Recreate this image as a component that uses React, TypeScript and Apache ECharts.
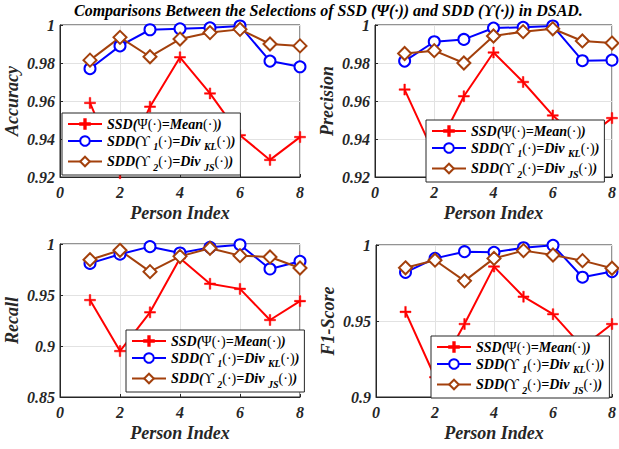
import React, { useEffect, useRef } from "react";
import * as echarts from "echarts";

const persons = [1, 2, 3, 4, 5, 6, 7, 8];

const accSSD = [0.959, 0.922, 0.957, 0.983, 0.964, 0.942, 0.929, 0.941];
const accKL = [0.977, 0.989, 0.9975, 0.998, 0.9985, 0.9995, 0.981, 0.978];
const accJS = [0.9815, 0.9935, 0.9833, 0.9926, 0.996, 0.9977, 0.99, 0.989];

const precSSD = [0.966, 0.932, 0.9625, 0.9855, 0.97, 0.9524, 0.939, 0.951];
const precKL = [0.981, 0.9912, 0.9924, 0.9984, 0.9988, 0.9995, 0.9812, 0.9815];
const precJS = [0.985, 0.9865, 0.98, 0.9942, 0.9965, 0.998, 0.9916, 0.9905];

const recSSD = [0.945, 0.895, 0.933, 0.986, 0.961, 0.956, 0.9255, 0.944];
const recKL = [0.981, 0.99, 0.9974, 0.9912, 0.9967, 0.9993, 0.9755, 0.983];
const recJS = [0.9846, 0.9938, 0.9729, 0.9879, 0.9958, 0.9886, 0.9873, 0.9765];

const f1SSD = [0.956, 0.913, 0.948, 0.9858, 0.966, 0.9545, 0.933, 0.948];
const f1KL = [0.982, 0.9912, 0.9956, 0.9952, 0.9982, 0.9998, 0.9788, 0.9825];
const f1JS = [0.985, 0.99, 0.9764, 0.9912, 0.9963, 0.9934, 0.9897, 0.9847];

const metricNames = ["Accuracy", "Precision", "Recall", "F1-Score"];
const yMins = [0.92, 0.92, 0.85, 0.9];
const yIntervals = [0.02, 0.02, 0.05, 0.05];
const seriesNames = ["SSD", "KL", "JS"];
const titleText = "Comparisons Between the Selections of SSD (\u03A8(\u00B7)) and SDD (\u03D2(\u00B7)) in DSAD.";

const FONT = "Liberation Serif";
const DARK = "#262626";
const RED = "#ff0000";
const BLUE = "#0000ff";
const BROWN = "#a3400c";
const PLUS = "path://M4.3,0H5.7V4.3H10V5.7H5.7V10H4.3V5.7H0V4.3H4.3Z";

const grids = [
  { left: 60, top: 25, width: 240, height: 152 },
  { left: 375, top: 25, width: 242, height: 152 },
  { left: 60, top: 244, width: 240, height: 153 },
  { left: 376, top: 245, width: 241, height: 152 },
];
const legendPos = [
  { left: 62, top: 113 },
  { left: 426, top: 120 },
  { left: 126, top: 330 },
  { left: 431, top: 336 },
];

export default function App() {
  const ref = useRef<HTMLDivElement>(null);
  useEffect(() => {
    if (!ref.current) return;
    const chart = echarts.init(ref.current, null, { renderer: "svg" });
    const allData = [
      [accSSD, accKL, accJS],
      [precSSD, precKL, precJS],
      [recSSD, recKL, recJS],
      [f1SSD, f1KL, f1JS],
    ];
    const textBase = { fontFamily: FONT, fontWeight: "bold", fontStyle: "italic", color: "#000" };
    const rich = {
      b: { ...textBase, fontSize: 14 },
      g: { fontFamily: FONT, fontWeight: "normal", fontStyle: "normal", color: "#000", fontSize: 14 },
      s: { ...textBase, fontSize: 10, padding: [11, 0, 0, 0] },
    };
    const fmt = (name: string) => {
      if (name === "SSD") return "{b|SSD(}{g|\u03A8(\u00B7)}{b|=Mean}{g|(\u00B7)}{b|)}";
      if (name === "KL") return "{b|SDD(}{g|\u03D2 }{s|1}{g|(\u00B7)}{b|=Div }{s|KL}{g|(\u00B7)}{b|)}";
      return "{b|SDD(}{g|\u03D2 }{s|2}{g|(\u00B7)}{b|=Div }{s|JS}{g|(\u00B7)}{b|)}";
    };
    const fmtLabel = (v: number) => String(parseFloat(v.toFixed(3)));
    const axisLabel = { color: DARK, fontSize: 16, fontWeight: "bold", fontStyle: "italic", fontFamily: FONT };
    const nameStyle = { color: DARK, fontSize: 18, fontWeight: "bold", fontStyle: "italic", fontFamily: FONT };
    const series: any[] = [];
    allData.forEach((set, gi) => {
      const styles = [
        { color: RED, symbol: PLUS, size: 11, bw: 0.5 },
        { color: BLUE, symbol: "emptyCircle", size: 11, bw: 2 },
        { color: BROWN, symbol: "emptyDiamond", size: 13, bw: 2 },
      ];
      set.forEach((vals, si) => {
        series.push({
          type: "line",
          name: seriesNames[si],
          xAxisIndex: gi,
          yAxisIndex: gi,
          data: persons.map((p, k) => [p, vals[k]]),
          symbol: styles[si].symbol,
          symbolSize: styles[si].size,
          showAllSymbol: true,
          lineStyle: { color: styles[si].color, width: 2 },
          itemStyle: { color: styles[si].color, borderColor: styles[si].color, borderWidth: styles[si].bw },
          z: 3,
        });
      });
    });
    const option: any = {
      animation: false,
      backgroundColor: "#fff",
      textStyle: { fontFamily: FONT },
      title: {
        text: titleText,
        left: 74,
        top: 0,
        padding: [2, 0, 0, 0],
        textStyle: { ...textBase, fontSize: 16, lineHeight: 16 },
      },
      grid: grids.map((g) => ({ ...g, show: true, borderColor: DARK, borderWidth: 1, backgroundColor: "#fff", containLabel: false })),
      xAxis: grids.map((_, i) => ({
        type: "value",
        gridIndex: i,
        min: 0,
        max: 8,
        interval: 2,
        name: "Person Index",
        nameLocation: "middle",
        nameGap: 27,
        nameTextStyle: nameStyle,
        axisLine: { show: true, lineStyle: { color: DARK, width: 1 } },
        axisTick: { show: true, inside: true, length: 3, lineStyle: { color: DARK } },
        axisLabel: { ...axisLabel, margin: 7 },
        splitLine: { show: true, lineStyle: { color: "#e2e2e2", width: 1 } },
      })),
      yAxis: grids.map((_, i) => ({
        type: "value",
        gridIndex: i,
        min: yMins[i],
        max: 1,
        interval: yIntervals[i],
        name: metricNames[i],
        nameLocation: "middle",
        nameGap: 39,
        nameTextStyle: nameStyle,
        axisLine: { show: true, lineStyle: { color: DARK, width: 1 } },
        axisTick: { show: true, inside: true, length: 3, lineStyle: { color: DARK } },
        axisLabel: { ...axisLabel, margin: 5, formatter: fmtLabel },
        splitLine: { show: true, lineStyle: { color: "#e2e2e2", width: 1 } },
      })),
      legend: legendPos.map((p) => ({
        ...p,
        orient: "vertical",
        data: seriesNames,
        formatter: fmt,
        backgroundColor: "#fff",
        borderColor: DARK,
        borderWidth: 1,
        borderRadius: 0,
        padding: [4, 5, 3, 5],
        itemGap: 3,
        itemWidth: 34,
        itemHeight: 12,
        selectedMode: false,
        textStyle: { ...textBase, fontSize: 14, rich },
      })),
      series,
    };
    chart.setOption(option);
    return () => chart.dispose();
  }, []);
  return (
    <div
      ref={ref}
      style={{ position: "fixed", left: 0, top: 0, width: 619, height: 449, background: "#fff" }}
    />
  );
}
